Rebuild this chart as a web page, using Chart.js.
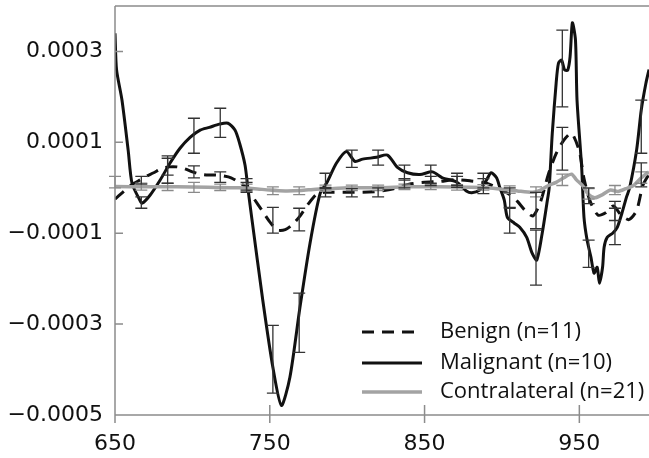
<!DOCTYPE html>
<html>
<head>
<meta charset="utf-8">
<script src="https://cdn.jsdelivr.net/npm/chart.js@4/dist/chart.umd.min.js"></script>
<style>
  body { margin: 0; background: #fff; }
  #wrap { width: 649px; height: 458px; }
</style>
</head>
<body>
<div id="wrap"><canvas id="spectra" width="649" height="458"></canvas></div>
<script>
// all values in units of 1e-4
const SCALE = 1e-4;

const xTicks = [650, 750, 850, 950];
const yTicks = [-5, -3, -1, 1, 3];

const seriesLabels = ['Benign (n=11)', 'Malignant (n=10)', 'Contralateral (n=21)'];

const malignantNm = [650, 651, 654.5, 658.5, 661, 666, 667.5, 672.5, 679, 685.5, 692, 698.5, 705, 711, 717.5, 723, 727.5, 730.5, 734, 736, 738.5, 745.5, 752, 757.5, 763, 769.5, 776, 782.5, 787, 793, 799.5, 805, 810, 819, 826, 832.5, 839, 847, 855, 861.5, 870.5, 877, 880.5, 885.5, 890, 893, 896.5, 898.5, 901.5, 903.5, 908, 911.5, 916, 919.5, 922.5, 926, 929, 930.5, 932.5, 935, 936.5, 938.5, 940.5, 942.5, 944, 945.5, 947.5, 948.5, 951.5, 953, 955, 957.5, 959.5, 961.5, 963, 965, 966, 968, 971.5, 974.5, 977.5, 980.5, 982.5, 987, 990, 993, 995];
const malignant = [3.4, 2.6, 1.93, 0.83, 0.1, -0.27, -0.34, -0.17, 0.16, 0.54, 0.87, 1.11, 1.27, 1.33, 1.40, 1.42, 1.27, 0.98, 0.5, -0.05, -0.7, -2.48, -3.95, -4.79, -4.17, -2.63, -1.22, -0.13, 0.12, 0.54, 0.8, 0.58, 0.63, 0.67, 0.72, 0.45, 0.33, 0.29, 0.35, 0.22, 0.13, -0.07, -0.11, -0.05, 0.17, 0.33, 0.22, 0.02, -0.27, -0.65, -0.78, -0.87, -1.09, -1.44, -1.59, -1.0, -0.35, 0, 1.19, 2.3, 2.74, 2.81, 2.59, 2.59, 2.88, 3.63, 3.25, 1.93, 0.45, -0.65, -1.15, -1.53, -1.88, -1.75, -2.1, -1.75, -1.31, -1.09, -1.0, -0.87, -0.56, -0.2, 0, 0.83, 1.71, 2.3, 2.6];

const benignNm = [650, 655, 660, 665, 670, 675, 680, 685, 690, 695, 700, 705, 710, 715, 720, 725, 730, 735, 740, 745, 750, 755, 760, 765, 770, 775, 780, 785, 790, 800, 810, 820, 830, 840, 850, 860, 870, 880, 890, 900, 905, 910, 915, 920, 925, 930, 935, 940, 945, 950, 953, 957, 962, 967, 972, 977, 982, 987, 991, 995];
const benign = [-0.25, -0.1, 0.05, 0.15, 0.25, 0.33, 0.42, 0.46, 0.46, 0.42, 0.35, 0.3, 0.28, 0.28, 0.26, 0.22, 0.12, 0, -0.25, -0.5, -0.75, -0.93, -0.92, -0.8, -0.6, -0.35, -0.15, -0.1, -0.1, -0.1, -0.1, -0.08, -0.02, 0.08, 0.12, 0.14, 0.18, 0.15, 0.1, -0.05, -0.15, -0.3, -0.5, -0.62, -0.3, 0.3, 0.75, 1.05, 1.2, 0.8, 0.2, -0.3, -0.6, -0.55, -0.4, -0.6, -0.7, -0.5, 0.05, 0.3];

const contraNm = [650, 670, 690, 710, 730, 740, 750, 760, 770, 780, 790, 800, 820, 840, 860, 880, 890, 900, 910, 920, 925, 930, 935, 940, 945, 948, 952, 956, 960, 965, 970, 975, 980, 985, 990, 995];
const contra = [0.03, 0.02, 0.02, 0.01, 0, -0.02, -0.05, -0.07, -0.06, -0.03, -0.02, 0, 0, 0.02, 0.02, 0.01, 0, -0.03, -0.07, -0.1, -0.05, 0.05, 0.12, 0.22, 0.3, 0.18, 0.05, -0.15, -0.22, -0.15, -0.05, -0.08, -0.02, 0.05, 0.22, 0.35];

// error bars: [low, high]
const errNm = [650, 667, 684, 701, 718, 735, 752, 769, 786, 803, 820, 837, 854, 871, 888, 905, 922, 939, 956, 973, 990];
const malignantErr = [null, [-0.45, -0.2], [0.1, 0.7], [0.76, 1.53], [1.11, 1.75], [-0.1, 0.2], [-4.52, -3.03], [-3.62, -2.32], [0.01, 0.32], [0.45, 0.83], [0.5, 0.83], [0.17, 0.5], [0.1, 0.5], [0.01, 0.32], [-0.13, 0.32], [-1.0, -0.43], [-2.14, -0.93], [1.78, 3.47], [-1.75, -1.15], [-1.25, -0.45], [0.76, 1.93]];
const benignErr = [null, [0.08, 0.25], [0.28, 0.65], [0.22, 0.48], [0.12, 0.35], [-0.05, 0.12], [-1.0, -0.43], [-0.95, -0.45], [-0.2, -0.02], [-0.2, -0.02], [-0.2, 0], [0, 0.2], [0.05, 0.25], [0.05, 0.25], [0, 0.2], [-0.45, 0], [-0.9, -0.1], [0.39, 1.33], [-0.35, 0], [-0.72, -0.3], [0.02, 0.55]];
const contraErr = [[0, 0.25], [-0.05, 0.1], [-0.06, 0.1], [-0.1, 0.12], [-0.06, 0.08], [-0.08, 0.08], [-0.15, 0.02], [-0.15, 0.02], [-0.08, 0.06], [-0.06, 0.06], [-0.06, 0.06], [-0.04, 0.08], [-0.04, 0.08], [-0.05, 0.07], [-0.05, 0.07], [-0.12, 0.04], [-0.2, 0.02], [0.05, 0.3], [-0.25, -0.02], [-0.15, 0.05], [0.1, 0.35]];

const toPoints = (xs, ys) => xs.map((x, i) => ({ x: x, y: ys[i] * SCALE }));

const AXIS_COLOR = '#8c8c8c';

const framePlugin = {
    id: 'frame',
    afterDatasetsDraw(chart) {
        const ctx = chart.ctx;
        const area = chart.chartArea;
        const xs = chart.scales.x;
        const ys = chart.scales.y;

        // error bars
        const groups = [
            { bars: contraErr, color: '#8a8a8a' },
            { bars: benignErr, color: '#333' },
            { bars: malignantErr, color: '#333' }
        ];
        ctx.save();
        ctx.lineWidth = 1.3;
        groups.forEach(g => {
            ctx.strokeStyle = g.color;
            g.bars.forEach((b, i) => {
                if (!b) return;
                const px = xs.getPixelForValue(errNm[i]);
                const lo = ys.getPixelForValue(b[0] * SCALE);
                const hi = ys.getPixelForValue(b[1] * SCALE);
                ctx.beginPath();
                ctx.moveTo(px, lo); ctx.lineTo(px, hi);
                ctx.moveTo(px - 6, lo); ctx.lineTo(px + 6, lo);
                ctx.moveTo(px - 6, hi); ctx.lineTo(px + 6, hi);
                ctx.stroke();
            });
        });
        ctx.restore();

        // axes, top border and inward ticks
        ctx.save();
        ctx.strokeStyle = AXIS_COLOR;
        ctx.lineWidth = 1.5;
        ctx.beginPath();
        ctx.moveTo(area.left, area.top);
        ctx.lineTo(area.left, area.bottom);
        ctx.lineTo(area.right, area.bottom);
        ctx.moveTo(area.left, area.top);
        ctx.lineTo(area.right, area.top);
        yTicks.forEach(v => {
            const py = ys.getPixelForValue(v * SCALE);
            ctx.moveTo(area.left, py);
            ctx.lineTo(area.left + 8, py);
        });
        xTicks.forEach(v => {
            const px = xs.getPixelForValue(v);
            ctx.moveTo(px, area.bottom - 10);
            ctx.lineTo(px, area.bottom + 8);
        });
        ctx.stroke();
        ctx.restore();

        // legend
        ctx.save();
        const rows = [332, 363, 392];
        ctx.font = '22px "Open Sans", sans-serif';
        ctx.textBaseline = 'middle';
        ctx.fillStyle = '#111';
        seriesLabels.forEach((label, i) => {
            const ds = chart.data.datasets.find(d => d.label === label);
            ctx.strokeStyle = ds.borderColor;
            ctx.lineWidth = ds.borderWidth;
            ctx.setLineDash(ds.borderDash || []);
            ctx.beginPath();
            ctx.moveTo(362, rows[i]);
            ctx.lineTo(422, rows[i]);
            ctx.stroke();
            ctx.fillText(label, 440, rows[i]);
        });
        ctx.restore();
    }
};

new Chart(document.getElementById('spectra'), {
    type: 'line',
    data: {
        datasets: [
            {
                label: seriesLabels[2],
                data: toPoints(contraNm, contra),
                borderColor: '#a3a3a3',
                borderWidth: 3.5,
                order: 0
            },
            {
                label: seriesLabels[0],
                data: toPoints(benignNm, benign),
                borderColor: '#111',
                borderWidth: 3,
                borderDash: [12, 8],
                order: 1
            },
            {
                label: seriesLabels[1],
                data: toPoints(malignantNm, malignant),
                borderColor: '#111',
                borderWidth: 3,
                order: 2
            }
        ]
    },
    plugins: [framePlugin],
    options: {
        responsive: false,
        animation: false,
        devicePixelRatio: 1,
        layout: { autoPadding: false, padding: { top: 6, right: 0, left: 0, bottom: 0 } },
        elements: {
            point: { radius: 0 },
            line: { tension: 0.25, fill: false, borderCapStyle: 'butt', borderJoinStyle: 'round' }
        },
        plugins: {
            legend: { display: false },
            tooltip: { enabled: false }
        },
        scales: {
            x: {
                type: 'linear',
                min: 650,
                max: 995,
                grid: { display: false },
                border: { display: false },
                afterBuildTicks: s => { s.ticks = xTicks.map(v => ({ value: v })); },
                afterFit: s => { s.height = 43; s.paddingLeft = 0; s.paddingRight = 0; },
                ticks: {
                    color: '#111',
                    padding: 8,
                    maxRotation: 0,
                    font: { family: 'DejaVu Sans', size: 22 }
                }
            },
            y: {
                min: -5 * SCALE,
                max: 4 * SCALE,
                grid: { display: false },
                border: { display: false },
                afterBuildTicks: s => { s.ticks = yTicks.map(v => ({ value: v * SCALE })); },
                afterFit: s => { s.width = 115; s.paddingTop = 0; s.paddingBottom = 0; },
                ticks: {
                    color: '#111',
                    padding: 4,
                    font: { family: 'DejaVu Sans', size: 22 },
                    callback: v => (v < 0 ? '\u2212' : '') + Math.abs(v).toFixed(4)
                }
            }
        }
    }
});
</script>
</body>
</html>
